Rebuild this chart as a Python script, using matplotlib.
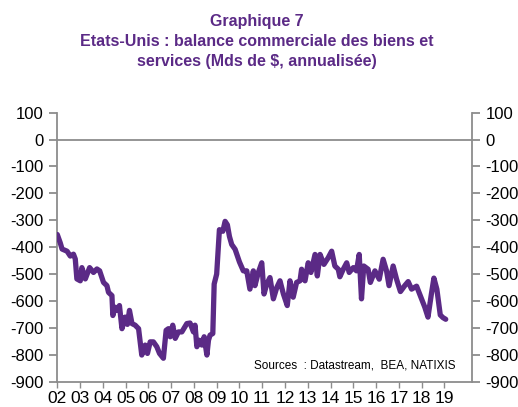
import matplotlib
matplotlib.use("Agg")
import matplotlib.pyplot as plt

plt.rcParams["font.family"] = ["Liberation Sans", "DejaVu Sans"]
plt.rcParams["axes.unicode_minus"] = False

PURPLE = "#5B2A86"
GREY = "#8C8C8C"

# balance commerciale (Mds $, annualisee)
years = [
    2002.00, 2002.13, 2002.21, 2002.43, 2002.57, 2002.71, 2002.79, 2002.86,
    2003.01, 2003.08, 2003.23, 2003.42, 2003.59, 2003.74, 2003.86, 2004.03,
    2004.18, 2004.25, 2004.40, 2004.44, 2004.54, 2004.64, 2004.73, 2004.84,
    2004.98, 2005.08, 2005.17, 2005.28, 2005.42, 2005.57, 2005.71, 2005.86,
    2005.96, 2006.08, 2006.22, 2006.37, 2006.49, 2006.66, 2006.78, 2006.88,
    2006.96, 2007.07, 2007.18, 2007.32, 2007.47, 2007.69, 2007.83, 2007.98,
    2008.05, 2008.13, 2008.24, 2008.35, 2008.45, 2008.57, 2008.64, 2008.71,
    2008.83, 2008.89, 2009.00, 2009.12, 2009.27, 2009.37, 2009.47, 2009.56,
    2009.66, 2009.81, 2010.00, 2010.17, 2010.32, 2010.46, 2010.61, 2010.68,
    2010.83, 2010.98, 2011.08, 2011.20, 2011.34, 2011.49, 2011.64, 2011.78,
    2011.93, 2012.10, 2012.22, 2012.36, 2012.51, 2012.66, 2012.73, 2012.88,
    2013.02, 2013.14, 2013.32, 2013.42, 2013.54, 2013.71, 2013.90, 2014.05,
    2014.19, 2014.34, 2014.41, 2014.56, 2014.71, 2014.82, 2015.00, 2015.14,
    2015.26, 2015.36, 2015.46, 2015.65, 2015.75, 2015.95, 2016.14, 2016.31,
    2016.46, 2016.57, 2016.75, 2016.90, 2017.07, 2017.26, 2017.41, 2017.56,
    2017.78, 2018.00, 2018.14, 2018.28, 2018.43, 2018.54, 2018.67, 2018.82,
    2018.94, 2019.06,
]
balance = [
    -353, -384, -407, -415, -433, -426, -444, -518,
    -525, -476, -518, -476, -494, -481, -488, -531,
    -543, -568, -580, -654, -623, -635, -617, -703,
    -660, -687, -635, -684, -690, -703, -801, -764,
    -795, -752, -752, -770, -795, -813, -709, -703,
    -733, -690, -739, -715, -715, -684, -682, -715,
    -690, -770, -746, -764, -733, -801, -746, -727,
    -721, -537, -500, -335, -341, -304, -317, -360,
    -390, -408, -455, -488, -488, -556, -488, -543,
    -494, -458, -574, -537, -513, -592, -550, -525,
    -574, -617, -525, -586, -531, -525, -482, -525,
    -458, -494, -427, -507, -427, -464, -439, -415,
    -470, -482, -510, -482, -458, -494, -476, -488,
    -427, -592, -470, -482, -531, -488, -519, -445,
    -488, -543, -470, -519, -565, -543, -528, -556,
    -545, -592, -623, -660, -574, -515, -556, -652,
    -662, -668,
]

year_ticks = list(range(2002, 2020))
year_labels = ["%02d" % (y % 100) for y in year_ticks]
y_ticks = list(range(-900, 101, 100))

fig = plt.figure(figsize=(5.18, 4.07), dpi=100)
ax = fig.add_axes([0.1106, 0.0622, 0.800, 0.661])

ax.plot(years, balance, color=PURPLE, lw=3.8, solid_capstyle="round",
        solid_joinstyle="round", zorder=3)
ax.axhline(0, color=GREY, lw=1.3, zorder=1)

ax.set_xlim(2002, 2020.2)
ax.set_ylim(-900, 100)
ax.set_xticks(year_ticks)
ax.set_xticklabels(year_labels)
ax.set_yticks(y_ticks)

for side in ["left", "right", "bottom"]:
    ax.spines[side].set_color(GREY)
    ax.spines[side].set_linewidth(1.3)
ax.spines["top"].set_visible(False)

ax.tick_params(axis="y", which="both", left=True, right=True,
               labelleft=True, labelright=True, direction="out",
               length=6, width=1.3, color=GREY, pad=4, labelsize=12)
ax.tick_params(axis="x", direction="out", length=4, width=1.0, color=GREY,
               pad=3, labelsize=12.5)

ax.text(0.962, 0.062, "Sources  : Datastream,  BEA, NATIXIS",
        transform=ax.transAxes, ha="right", va="center", fontsize=8.5)

title_lines = [
    "Graphique 7",
    "Etats-Unis : balance commerciale des biens et",
    "services (Mds de $, annualisée)",
]
for i, line in enumerate(title_lines):
    fig.text(0.496, 0.946 - i * 0.049, line, ha="center", va="center",
             fontsize=11.5, fontweight="bold", color=PURPLE)

fig.savefig("out.png", dpi=100, facecolor="white")
